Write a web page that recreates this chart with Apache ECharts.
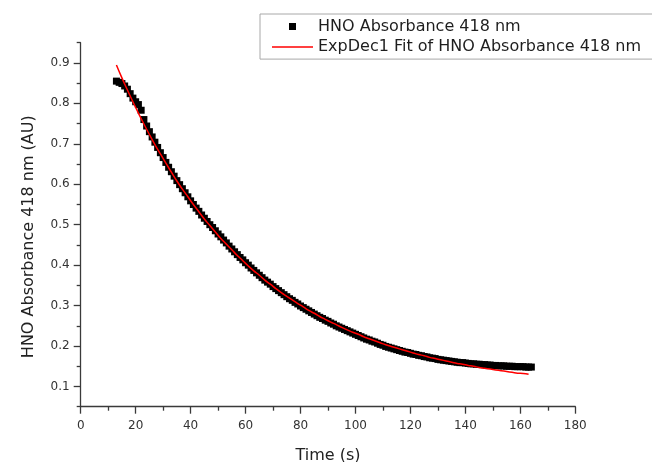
<!DOCTYPE html>
<html>
<head>
<meta charset="utf-8">
<script src="https://cdn.jsdelivr.net/npm/echarts@6/dist/echarts.min.js"></script>
<style>
html,body{margin:0;padding:0;background:#fff;}
#chart{width:652px;height:462px;}
</style>
</head>
<body>
<div id="chart"></div>
<script>
var dataTime = [13,14,15,16,17,18,19,20,21,22,23,24,25,26,27,28,29,30,31,32,33,34,35,36,37,38,39,40,41,42,43,44,45,46,47,48,49,50,51,52,53,54,55,56,57,58,59,60,61,62,63,64,65,66,67,68,69,70,71,72,73,74,75,76,77,78,79,80,81,82,83,84,85,86,87,88,89,90,91,92,93,94,95,96,97,98,99,100,101,102,103,104,105,106,107,108,109,110,111,112,113,114,115,116,117,118,119,120,121,122,123,124,125,126,127,128,129,130,131,132,133,134,135,136,137,138,139,140,141,142,143,144,145,146,147,148,149,150,151,152,153,154,155,156,157,158,159,160,161,162,163,164];
var dataAbs = [0.855,0.852,0.849,0.843,0.835,0.824,0.813,0.804,0.797,0.783,0.760,0.744,0.730,0.717,0.704,0.691,0.678,0.666,0.654,0.642,0.631,0.620,0.609,0.599,0.589,0.579,0.569,0.559,0.550,0.541,0.533,0.524,0.516,0.508,0.500,0.493,0.485,0.477,0.470,0.462,0.455,0.447,0.440,0.433,0.426,0.419,0.413,0.406,0.400,0.393,0.387,0.381,0.375,0.369,0.363,0.358,0.353,0.347,0.342,0.337,0.332,0.327,0.322,0.317,0.313,0.308,0.304,0.299,0.295,0.291,0.287,0.283,0.279,0.275,0.271,0.268,0.264,0.261,0.257,0.254,0.250,0.247,0.244,0.241,0.238,0.235,0.232,0.229,0.226,0.223,0.220,0.217,0.215,0.212,0.210,0.207,0.204,0.202,0.199,0.197,0.195,0.193,0.191,0.189,0.187,0.185,0.184,0.182,0.180,0.179,0.177,0.176,0.174,0.173,0.171,0.170,0.169,0.167,0.166,0.165,0.164,0.163,0.162,0.161,0.160,0.159,0.159,0.158,0.157,0.156,0.156,0.155,0.155,0.154,0.154,0.153,0.153,0.152,0.152,0.151,0.151,0.151,0.150,0.150,0.150,0.149,0.149,0.149,0.149,0.148,0.148,0.148];

// ExpDec1 fit curve
var fitTime = [13,15,17,19,21,23,25,27,29,31,33,35,37,39,41,43,45,47,49,51,53,55,57,59,61,63,65,67,69,71,73,75,77,79,81,83,85,87,89,91,93,95,97,99,101,103,105,107,109,111,113,115,117,119,121,123,125,127,129,131,133,135,137,139,141,143,145,147,149,151,153,155,157,159,161,163];
var fitAbs = [0.895,0.863,0.833,0.804,0.776,0.749,0.723,0.698,0.675,0.652,0.630,0.608,0.588,0.569,0.550,0.532,0.514,0.498,0.482,0.466,0.452,0.438,0.424,0.411,0.398,0.386,0.375,0.363,0.353,0.342,0.332,0.323,0.314,0.305,0.297,0.288,0.281,0.273,0.266,0.259,0.253,0.246,0.240,0.234,0.229,0.223,0.218,0.213,0.208,0.203,0.199,0.195,0.191,0.187,0.183,0.179,0.176,0.172,0.169,0.166,0.163,0.160,0.157,0.155,0.152,0.150,0.147,0.145,0.143,0.141,0.139,0.137,0.135,0.133,0.132,0.130];

var yMajorTicks = [0.1,0.2,0.3,0.4,0.5,0.6,0.7,0.8,0.9];
var yMinorTicks = [0.05,0.15,0.25,0.35,0.45,0.55,0.65,0.75,0.85,0.95];

var seriesNames = ['HNO Absorbance 418 nm', 'ExpDec1 Fit of HNO Absorbance 418 nm'];
var xTitle = 'Time (s)';
var yTitle = 'HNO Absorbance 418 nm (AU)';

function zip(a, b) { return a.map(function (v, i) { return [v, b[i]]; }); }

var FONT = 'DejaVu Sans';
var AXIS_COLOR = '#3a3a3a';
var LABEL_COLOR = '#333';

var chart = echarts.init(document.getElementById('chart'), null, {renderer: 'canvas'});
chart.setOption({
  animation: false,
  backgroundColor: '#fff',
  textStyle: {fontFamily: FONT},
  grid: {left: 80.7, right: 76.7, top: 42.7, bottom: 55.3, containLabel: false, outerBoundsMode: 'none'},
  legend: {
    orient: 'vertical',
    left: 260,
    top: 14,
    padding: [2.5, 40, 2, 12],
    itemWidth: 41,
    itemHeight: 7,
    itemGap: 0.6,
    borderColor: '#a8a8a8',
    borderWidth: 1,
    backgroundColor: '#fff',
    textStyle: {fontFamily: FONT, fontSize: 16, color: '#1e1e1e', lineHeight: 20},
    data: [
      {name: seriesNames[0], icon: 'path://M0,0h10v10h-10z'},
      {name: seriesNames[1], icon: 'path://M0,0h82v3h-82z'}
    ]
  },
  xAxis: {
    type: 'value',
    min: 0, max: 180, interval: 20,
    name: xTitle,
    nameLocation: 'middle',
    nameGap: 41,
    nameTextStyle: {fontFamily: FONT, fontSize: 16, color: '#222'},
    axisLine: {show: true, onZero: false, lineStyle: {color: AXIS_COLOR, width: 1.3}},
    axisTick: {show: true, inside: false, length: 7, lineStyle: {color: AXIS_COLOR, width: 1.3}},
    minorTick: {show: true, splitNumber: 2, length: 4, lineStyle: {color: AXIS_COLOR, width: 1.3}},
    axisLabel: {fontFamily: FONT, fontSize: 12, color: LABEL_COLOR, margin: 13},
    splitLine: {show: false}
  },
  yAxis: [{
    type: 'value',
    min: 0.05, max: 0.95, interval: 0.05,
    name: yTitle,
    nameLocation: 'middle',
    nameGap: 44,
    nameTextStyle: {fontFamily: FONT, fontSize: 16, color: '#222', padding: [0, 24, 0, 0]},
    axisLine: {show: true, onZero: false, lineStyle: {color: AXIS_COLOR, width: 1.3}},
    axisTick: {show: true, inside: false, length: 7, customValues: yMajorTicks, lineStyle: {color: AXIS_COLOR, width: 1.3}},
    axisLabel: {fontFamily: FONT, fontSize: 12, color: LABEL_COLOR, margin: 11, customValues: yMajorTicks,
      formatter: function (v) { return (Math.round(v * 10) / 10).toFixed(1); }},
    splitLine: {show: false}
  }, {
    type: 'value',
    position: 'left',
    min: 0.05, max: 0.95, interval: 0.05,
    axisLine: {show: false},
    axisTick: {show: true, inside: false, length: 4, customValues: yMinorTicks, lineStyle: {color: AXIS_COLOR, width: 1.3}},
    axisLabel: {show: false},
    splitLine: {show: false}
  }],
  series: [{
    name: seriesNames[0],
    type: 'scatter',
    symbol: 'rect',
    symbolSize: 7,
    itemStyle: {color: '#000', opacity: 1},
    data: zip(dataTime, dataAbs),
    z: 2
  }, {
    name: seriesNames[1],
    type: 'line',
    showSymbol: false,
    symbol: 'none',
    smooth: true,
    lineStyle: {color: '#ff0000', width: 1.5},
    itemStyle: {color: '#ff0000'},
    data: zip(fitTime, fitAbs),
    z: 3
  }]
});
</script>
</body>
</html>
